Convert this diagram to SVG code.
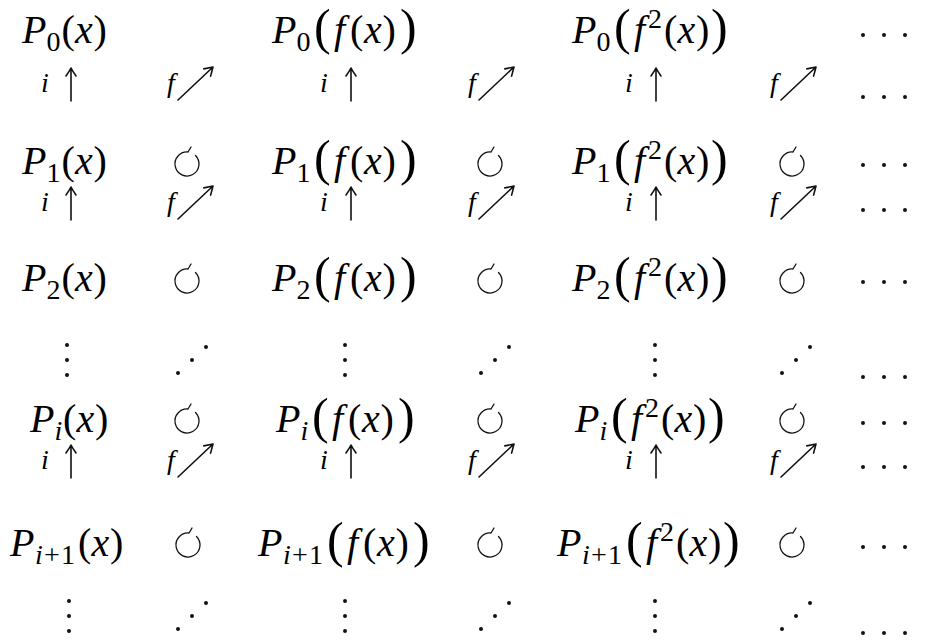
<svg xmlns="http://www.w3.org/2000/svg" width="929" height="641" viewBox="0 0 929 641">
<g id="n-p0x">
<text x="22" y="43" font-family="Liberation Serif, serif" font-size="40" font-style="italic">P</text>
<text x="46.5" y="51" font-family="Liberation Serif, serif" font-size="28">0</text>
<text x="61.5" y="43" font-family="Liberation Serif, serif" font-size="40">(</text>
<text x="75" y="43" font-family="Liberation Serif, serif" font-size="40" font-style="italic">x</text>
<text x="93.5" y="43" font-family="Liberation Serif, serif" font-size="40">)</text>
</g>
<g id="n-p0fx">
<text x="272" y="43" font-family="Liberation Serif, serif" font-size="40" font-style="italic">P</text>
<text x="296.5" y="51" font-family="Liberation Serif, serif" font-size="28">0</text>
<text x="314" y="44" font-family="Liberation Serif, serif" font-size="50">(</text>
<text x="334" y="43" font-family="Liberation Serif, serif" font-size="40" font-style="italic">f</text>
<text x="350" y="43" font-family="Liberation Serif, serif" font-size="40">(</text>
<text x="364" y="43" font-family="Liberation Serif, serif" font-size="40" font-style="italic">x</text>
<text x="382.5" y="43" font-family="Liberation Serif, serif" font-size="40">)</text>
<text x="400" y="44" font-family="Liberation Serif, serif" font-size="50">)</text>
</g>
<g id="n-p0f2x">
<text x="572" y="43" font-family="Liberation Serif, serif" font-size="40" font-style="italic">P</text>
<text x="596.5" y="51" font-family="Liberation Serif, serif" font-size="28">0</text>
<text x="614" y="44" font-family="Liberation Serif, serif" font-size="50">(</text>
<text x="634" y="43" font-family="Liberation Serif, serif" font-size="40" font-style="italic">f</text>
<text x="648" y="28" font-family="Liberation Serif, serif" font-size="28">2</text>
<text x="664" y="43" font-family="Liberation Serif, serif" font-size="40">(</text>
<text x="677.5" y="43" font-family="Liberation Serif, serif" font-size="40" font-style="italic">x</text>
<text x="696" y="43" font-family="Liberation Serif, serif" font-size="40">)</text>
<text x="711" y="44" font-family="Liberation Serif, serif" font-size="50">)</text>
</g>
<g id="n-p1x">
<text x="22" y="174" font-family="Liberation Serif, serif" font-size="40" font-style="italic">P</text>
<text x="46.5" y="182" font-family="Liberation Serif, serif" font-size="28">1</text>
<text x="61.5" y="174" font-family="Liberation Serif, serif" font-size="40">(</text>
<text x="75" y="174" font-family="Liberation Serif, serif" font-size="40" font-style="italic">x</text>
<text x="93.5" y="174" font-family="Liberation Serif, serif" font-size="40">)</text>
</g>
<g id="n-p1fx">
<text x="272" y="174" font-family="Liberation Serif, serif" font-size="40" font-style="italic">P</text>
<text x="296.5" y="182" font-family="Liberation Serif, serif" font-size="28">1</text>
<text x="314" y="175" font-family="Liberation Serif, serif" font-size="50">(</text>
<text x="334" y="174" font-family="Liberation Serif, serif" font-size="40" font-style="italic">f</text>
<text x="350" y="174" font-family="Liberation Serif, serif" font-size="40">(</text>
<text x="364" y="174" font-family="Liberation Serif, serif" font-size="40" font-style="italic">x</text>
<text x="382.5" y="174" font-family="Liberation Serif, serif" font-size="40">)</text>
<text x="400" y="175" font-family="Liberation Serif, serif" font-size="50">)</text>
</g>
<g id="n-p1f2x">
<text x="572" y="174" font-family="Liberation Serif, serif" font-size="40" font-style="italic">P</text>
<text x="596.5" y="182" font-family="Liberation Serif, serif" font-size="28">1</text>
<text x="614" y="175" font-family="Liberation Serif, serif" font-size="50">(</text>
<text x="634" y="174" font-family="Liberation Serif, serif" font-size="40" font-style="italic">f</text>
<text x="648" y="159" font-family="Liberation Serif, serif" font-size="28">2</text>
<text x="664" y="174" font-family="Liberation Serif, serif" font-size="40">(</text>
<text x="677.5" y="174" font-family="Liberation Serif, serif" font-size="40" font-style="italic">x</text>
<text x="696" y="174" font-family="Liberation Serif, serif" font-size="40">)</text>
<text x="711" y="175" font-family="Liberation Serif, serif" font-size="50">)</text>
</g>
<g id="n-p2x">
<text x="22" y="291" font-family="Liberation Serif, serif" font-size="40" font-style="italic">P</text>
<text x="46.5" y="299" font-family="Liberation Serif, serif" font-size="28">2</text>
<text x="61.5" y="291" font-family="Liberation Serif, serif" font-size="40">(</text>
<text x="75" y="291" font-family="Liberation Serif, serif" font-size="40" font-style="italic">x</text>
<text x="93.5" y="291" font-family="Liberation Serif, serif" font-size="40">)</text>
</g>
<g id="n-p2fx">
<text x="272" y="291" font-family="Liberation Serif, serif" font-size="40" font-style="italic">P</text>
<text x="296.5" y="299" font-family="Liberation Serif, serif" font-size="28">2</text>
<text x="314" y="292" font-family="Liberation Serif, serif" font-size="50">(</text>
<text x="334" y="291" font-family="Liberation Serif, serif" font-size="40" font-style="italic">f</text>
<text x="350" y="291" font-family="Liberation Serif, serif" font-size="40">(</text>
<text x="364" y="291" font-family="Liberation Serif, serif" font-size="40" font-style="italic">x</text>
<text x="382.5" y="291" font-family="Liberation Serif, serif" font-size="40">)</text>
<text x="400" y="292" font-family="Liberation Serif, serif" font-size="50">)</text>
</g>
<g id="n-p2f2x">
<text x="572" y="291" font-family="Liberation Serif, serif" font-size="40" font-style="italic">P</text>
<text x="596.5" y="299" font-family="Liberation Serif, serif" font-size="28">2</text>
<text x="614" y="292" font-family="Liberation Serif, serif" font-size="50">(</text>
<text x="634" y="291" font-family="Liberation Serif, serif" font-size="40" font-style="italic">f</text>
<text x="648" y="276" font-family="Liberation Serif, serif" font-size="28">2</text>
<text x="664" y="291" font-family="Liberation Serif, serif" font-size="40">(</text>
<text x="677.5" y="291" font-family="Liberation Serif, serif" font-size="40" font-style="italic">x</text>
<text x="696" y="291" font-family="Liberation Serif, serif" font-size="40">)</text>
<text x="711" y="292" font-family="Liberation Serif, serif" font-size="50">)</text>
</g>
<g id="n-pix">
<text x="30" y="432" font-family="Liberation Serif, serif" font-size="40" font-style="italic">P</text>
<text x="54.5" y="440" font-family="Liberation Serif, serif" font-size="28" font-style="italic">i</text>
<text x="63" y="432" font-family="Liberation Serif, serif" font-size="40">(</text>
<text x="76.5" y="432" font-family="Liberation Serif, serif" font-size="40" font-style="italic">x</text>
<text x="95" y="432" font-family="Liberation Serif, serif" font-size="40">)</text>
</g>
<g id="n-pifx">
<text x="276" y="432" font-family="Liberation Serif, serif" font-size="40" font-style="italic">P</text>
<text x="300.5" y="440" font-family="Liberation Serif, serif" font-size="28" font-style="italic">i</text>
<text x="312" y="433" font-family="Liberation Serif, serif" font-size="50">(</text>
<text x="332" y="432" font-family="Liberation Serif, serif" font-size="40" font-style="italic">f</text>
<text x="348" y="432" font-family="Liberation Serif, serif" font-size="40">(</text>
<text x="362" y="432" font-family="Liberation Serif, serif" font-size="40" font-style="italic">x</text>
<text x="380.5" y="432" font-family="Liberation Serif, serif" font-size="40">)</text>
<text x="398" y="433" font-family="Liberation Serif, serif" font-size="50">)</text>
</g>
<g id="n-pif2x">
<text x="575" y="432" font-family="Liberation Serif, serif" font-size="40" font-style="italic">P</text>
<text x="599.5" y="440" font-family="Liberation Serif, serif" font-size="28" font-style="italic">i</text>
<text x="611" y="433" font-family="Liberation Serif, serif" font-size="50">(</text>
<text x="631" y="432" font-family="Liberation Serif, serif" font-size="40" font-style="italic">f</text>
<text x="645" y="417" font-family="Liberation Serif, serif" font-size="28">2</text>
<text x="661" y="432" font-family="Liberation Serif, serif" font-size="40">(</text>
<text x="674.5" y="432" font-family="Liberation Serif, serif" font-size="40" font-style="italic">x</text>
<text x="693" y="432" font-family="Liberation Serif, serif" font-size="40">)</text>
<text x="708" y="433" font-family="Liberation Serif, serif" font-size="50">)</text>
</g>
<g id="n-pi1x">
<text x="10" y="556" font-family="Liberation Serif, serif" font-size="40" font-style="italic">P</text>
<text x="35" y="564" font-family="Liberation Serif, serif" font-size="28" font-style="italic">i</text>
<text x="44" y="564" font-family="Liberation Serif, serif" font-size="28">+</text>
<text x="61" y="564" font-family="Liberation Serif, serif" font-size="28">1</text>
<text x="78" y="556" font-family="Liberation Serif, serif" font-size="40">(</text>
<text x="91.5" y="556" font-family="Liberation Serif, serif" font-size="40" font-style="italic">x</text>
<text x="110" y="556" font-family="Liberation Serif, serif" font-size="40">)</text>
</g>
<g id="n-pi1fx">
<text x="258" y="556" font-family="Liberation Serif, serif" font-size="40" font-style="italic">P</text>
<text x="283" y="564" font-family="Liberation Serif, serif" font-size="28" font-style="italic">i</text>
<text x="292" y="564" font-family="Liberation Serif, serif" font-size="28">+</text>
<text x="309" y="564" font-family="Liberation Serif, serif" font-size="28">1</text>
<text x="327" y="557" font-family="Liberation Serif, serif" font-size="50">(</text>
<text x="347" y="556" font-family="Liberation Serif, serif" font-size="40" font-style="italic">f</text>
<text x="363" y="556" font-family="Liberation Serif, serif" font-size="40">(</text>
<text x="377" y="556" font-family="Liberation Serif, serif" font-size="40" font-style="italic">x</text>
<text x="395.5" y="556" font-family="Liberation Serif, serif" font-size="40">)</text>
<text x="413" y="557" font-family="Liberation Serif, serif" font-size="50">)</text>
</g>
<g id="n-pi1f2x">
<text x="557" y="556" font-family="Liberation Serif, serif" font-size="40" font-style="italic">P</text>
<text x="582" y="564" font-family="Liberation Serif, serif" font-size="28" font-style="italic">i</text>
<text x="591" y="564" font-family="Liberation Serif, serif" font-size="28">+</text>
<text x="608" y="564" font-family="Liberation Serif, serif" font-size="28">1</text>
<text x="626" y="557" font-family="Liberation Serif, serif" font-size="50">(</text>
<text x="646" y="556" font-family="Liberation Serif, serif" font-size="40" font-style="italic">f</text>
<text x="660" y="541" font-family="Liberation Serif, serif" font-size="28">2</text>
<text x="676" y="556" font-family="Liberation Serif, serif" font-size="40">(</text>
<text x="689.5" y="556" font-family="Liberation Serif, serif" font-size="40" font-style="italic">x</text>
<text x="708" y="556" font-family="Liberation Serif, serif" font-size="40">)</text>
<text x="723" y="557" font-family="Liberation Serif, serif" font-size="50">)</text>
</g>
<g id="labels">
<text x="41" y="92" font-family="Liberation Serif, serif" font-size="28" font-style="italic">i</text>
<text x="320" y="92" font-family="Liberation Serif, serif" font-size="28" font-style="italic">i</text>
<text x="625" y="92" font-family="Liberation Serif, serif" font-size="28" font-style="italic">i</text>
<text x="167" y="92" font-family="Liberation Serif, serif" font-size="28" font-style="italic">f</text>
<text x="468" y="92" font-family="Liberation Serif, serif" font-size="28" font-style="italic">f</text>
<text x="770" y="92" font-family="Liberation Serif, serif" font-size="28" font-style="italic">f</text>
<text x="41" y="211" font-family="Liberation Serif, serif" font-size="28" font-style="italic">i</text>
<text x="320" y="211" font-family="Liberation Serif, serif" font-size="28" font-style="italic">i</text>
<text x="625" y="211" font-family="Liberation Serif, serif" font-size="28" font-style="italic">i</text>
<text x="167" y="211" font-family="Liberation Serif, serif" font-size="28" font-style="italic">f</text>
<text x="468" y="211" font-family="Liberation Serif, serif" font-size="28" font-style="italic">f</text>
<text x="770" y="211" font-family="Liberation Serif, serif" font-size="28" font-style="italic">f</text>
<text x="41" y="469" font-family="Liberation Serif, serif" font-size="28" font-style="italic">i</text>
<text x="320" y="469" font-family="Liberation Serif, serif" font-size="28" font-style="italic">i</text>
<text x="625" y="469" font-family="Liberation Serif, serif" font-size="28" font-style="italic">i</text>
<text x="167" y="469" font-family="Liberation Serif, serif" font-size="28" font-style="italic">f</text>
<text x="468" y="469" font-family="Liberation Serif, serif" font-size="28" font-style="italic">f</text>
<text x="770" y="469" font-family="Liberation Serif, serif" font-size="28" font-style="italic">f</text>
</g>
<g id="connectors" stroke="#111" stroke-width="1.6" fill="none" stroke-linecap="round" stroke-linejoin="round">
<path d="M71,101V68M66,76Q69.5,71 71,68Q72.5,71 76,76"/>
<path d="M351,101V68M346,76Q349.5,71 351,68Q352.5,71 356,76"/>
<path d="M656,101V68M651,76Q654.5,71 656,68Q657.5,71 661,76"/>
<path d="M71,220V187M66,195Q69.5,190 71,187Q72.5,190 76,195"/>
<path d="M351,220V187M346,195Q349.5,190 351,187Q352.5,190 356,195"/>
<path d="M656,220V187M651,195Q654.5,190 656,187Q657.5,190 661,195"/>
<path d="M71,478V445M66,453Q69.5,448 71,445Q72.5,448 76,453"/>
<path d="M351,478V445M346,453Q349.5,448 351,445Q352.5,448 356,453"/>
<path d="M656,478V445M651,453Q654.5,448 656,445Q657.5,448 661,453"/>
<path d="M178,100L213,67M210.6,76.1L213,67L203.8,68.9"/>
<path d="M479,100L514,67M511.6,76.1L514,67L504.8,68.9"/>
<path d="M781,100L816,67M813.6,76.1L816,67L806.8,68.9"/>
<path d="M178,219L213,186M210.6,195.1L213,186L203.8,187.9"/>
<path d="M479,219L514,186M511.6,195.1L514,186L504.8,187.9"/>
<path d="M781,219L816,186M813.6,195.1L816,186L806.8,187.9"/>
<path d="M178,477L213,444M210.6,453.1L213,444L203.8,445.9"/>
<path d="M479,477L514,444M511.6,453.1L514,444L504.8,445.9"/>
<path d="M781,477L816,444M813.6,453.1L816,444L806.8,445.9"/>
</g>
<g id="circles" stroke="#111" stroke-width="1.3" fill="none" stroke-linecap="round">
<path d="M188,152A12,12 0 1 0 195.5,155.5M188,152L191,147"/>
<path d="M491,152A12,12 0 1 0 498.5,155.5M491,152L494,147"/>
<path d="M793,152A12,12 0 1 0 800.5,155.5M793,152L796,147"/>
<path d="M188,269A12,12 0 1 0 195.5,272.5M188,269L191,264"/>
<path d="M491,269A12,12 0 1 0 498.5,272.5M491,269L494,264"/>
<path d="M793,269A12,12 0 1 0 800.5,272.5M793,269L796,264"/>
<path d="M188,409A12,12 0 1 0 195.5,412.5M188,409L191,404"/>
<path d="M491,409A12,12 0 1 0 498.5,412.5M491,409L494,404"/>
<path d="M793,409A12,12 0 1 0 800.5,412.5M793,409L796,404"/>
<path d="M189,533A12,12 0 1 0 196.5,536.5M189,533L192,528"/>
<path d="M491,533A12,12 0 1 0 498.5,536.5M491,533L494,528"/>
<path d="M793,533A12,12 0 1 0 800.5,536.5M793,533L796,528"/>
</g>
<g id="dots" stroke="#111" stroke-width="4" stroke-linecap="round" fill="none">
<path d="M863,35h0M884,35h0M905,35h0M863,97h0M884,97h0M905,97h0M863,165h0M884,165h0M905,165h0M863,210h0M884,210h0M905,210h0M863,282h0M884,282h0M905,282h0M863,377h0M884,377h0M905,377h0M863,423h0M884,423h0M905,423h0M863,467h0M884,467h0M905,467h0M863,547h0M884,547h0M905,547h0M863,633h0M884,633h0M905,633h0"/>
<path d="M67,345h0M67,360h0M67,375h0M345,345h0M345,360h0M345,375h0M655,345h0M655,360h0M655,375h0"/>
<path d="M69,601h0M69,616h0M69,631h0M345,601h0M345,616h0M345,631h0M655,601h0M655,616h0M655,631h0"/>
<path d="M178,373h0M192,360h0M206,347h0M481,373h0M495,360h0M509,347h0M782,373h0M796,360h0M810,347h0"/>
<path d="M178,629h0M192,616h0M206,603h0M481,629h0M495,616h0M509,603h0M782,629h0M796,616h0M810,603h0"/>
</g>
</svg>
